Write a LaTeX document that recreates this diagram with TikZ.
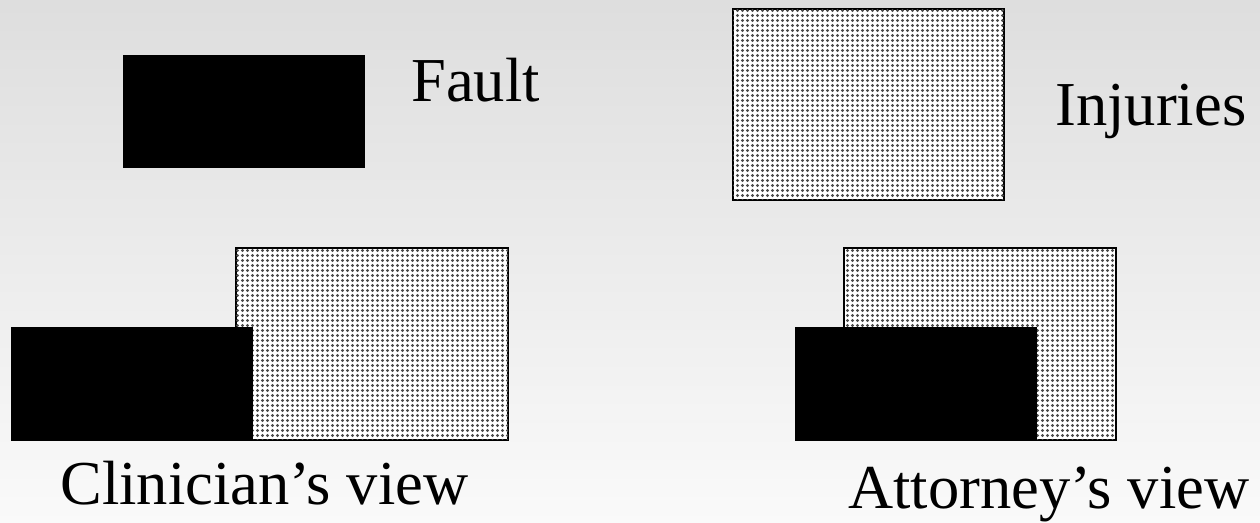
\documentclass[tikz,border=0pt]{standalone}
\usepackage{fontspec}
\setmainfont{Liberation Serif}
\usetikzlibrary{patterns}

% dot screen used for the "injuries" boxes
\pgfdeclarepatternformonly{finedots}{\pgfpoint{-0.1pt}{-0.1pt}}{\pgfpoint{2.6pt}{2.6pt}}{\pgfpoint{2.5pt}{2.5pt}}{%
  \pgfpathcircle{\pgfpoint{1.25pt}{1.25pt}}{0.8pt}%
  \pgfusepath{fill}%
}

\tikzset{
  faultbox/.style={fill=black},
  injurybox/.style={draw=black, line width=1pt, fill=white, postaction={pattern=finedots, pattern color=black!70}},
  label/.style={font=\fontsize{31.25}{36}\selectfont, inner sep=0pt, anchor=base west, text=black}
}

\begin{document}
\begin{tikzpicture}[x=0.5pt, y=-0.5pt]
  % background with soft vertical gradient
  \shade[top color=black!13, bottom color=black!2] (0,0) rectangle (1260,523);
  \useasboundingbox (0,0) rectangle (1260,523);

  % legend
  \fill[faultbox] (123,55) rectangle (365,168);
  \node[label] (fault) at (411,102) {Fault};
  \draw[injurybox] (733,9) rectangle (1004,200);
  \node[label] (injuries) at (1055,126) {Injuries};

  % clinician's view: fault covers only a corner of the injuries
  \draw[injurybox] (236,248) rectangle (508,440);
  \fill[faultbox] (11,327) rectangle (253,441);
  \node[label] (clin) at (60,505) {Clinician’s view};

  % attorney's view: fault covers most of the injuries
  \draw[injurybox] (844,248) rectangle (1116,440);
  \fill[faultbox] (795,327) rectangle (1037,441);
  \node[label] (att) at (848,509) {Attorney’s view};
\end{tikzpicture}
\end{document}
